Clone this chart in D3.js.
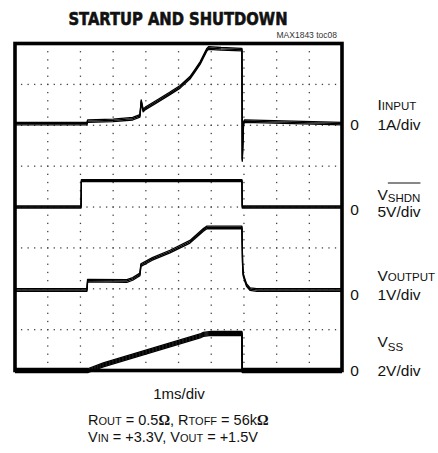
<!DOCTYPE html>
<html>
<head>
<meta charset="utf-8">
<script src="https://cdn.jsdelivr.net/npm/d3@7"></script>
<style>
  body { margin: 0; background: #fff; }
  text { font-family: "Liberation Sans", Arial, sans-serif; fill: #111; }
</style>
</head>
<body>
<script>
// scope shot data, time in ms, values in A or V
var inputT = [0, 2.2, 2.22, 3.0, 3.6, 3.82, 3.86, 3.92, 4.0, 4.33, 4.74, 5.05, 5.35, 5.5, 5.66, 5.86, 5.92, 6.3, 6.94, 6.95, 6.99, 7.02, 10];
var inputA = [0.04, 0.04, 0.10, 0.12, 0.16, 0.23, 0.59, 0.36, 0.42, 0.58, 0.78, 0.94, 1.16, 1.33, 1.52, 1.84, 1.89, 1.87, 1.85, -0.85, 0.06, 0.1, 0.04];

var shdnT = [0, 2.02, 2.03, 6.94, 6.95, 10];
var shdnV = [0, 0, 3.22, 3.22, 0, 0];

var voutT = [0, 2.2, 2.22, 3.42, 3.6, 3.82, 3.85, 4.2, 4.74, 5.35, 5.76, 5.87, 6.94, 6.96, 6.98, 7.03, 7.08, 7.19, 7.39, 10];
var voutV = [-0.03, -0.03, 0.2, 0.19, 0.24, 0.35, 0.58, 0.73, 0.91, 1.15, 1.44, 1.5, 1.5, 0.6, 0.34, 0.21, 0.09, -0.01, -0.03, -0.03];

var vssT = [0, 2.24, 2.7, 3.72, 4.74, 5.66, 5.76, 6.0, 6.94, 6.95, 10];
var vssV = [0, 0, 0.27, 0.76, 1.25, 1.69, 1.77, 1.82, 1.81, 0, 0];

// channel info
var chanMain = ["I", "V", "V", "V"];
var chanSub = ["INPUT", "SHDN", "OUTPUT", "SS"];
var chanScale = ["1A/div", "5V/div", "1V/div", "2V/div"];
var chanPerDiv = [1, 5, 1, 2];
var chanZeroDiv = [2, 4, 6, 8];

var title = "STARTUP AND SHUTDOWN";
var tocLabel = "MAX1843 toc08";
var timeLabel = "1ms/div";

var W = 438, H = 453;
var frame = {x: 15, y: 43.5, w: 327, h: 327};

var svg = d3.select("body").append("svg")
	.attr("width", W)
	.attr("height", H);

var x = d3.scaleLinear().domain([0, 10]).range([frame.x, frame.x + frame.w]);
var yDiv = d3.scaleLinear().domain([0, 8]).range([frame.y, frame.y + frame.h]);

// dotted graticule, 5 minor dots per division
var g = svg.append("g");
for (var k = 1; k < 8; k++) {
	for (var j = 1; j < 50; j++) {
		g.append("rect")
			.attr("x", x(j / 5) - 0.6).attr("y", yDiv(k) - 0.6)
			.attr("width", 1.3).attr("height", 1.3)
			.attr("fill", "#444");
	}
}
for (var i = 1; i < 10; i++) {
	for (var m = 1; m < 40; m++) {
		g.append("rect")
			.attr("x", x(i) - 0.6).attr("y", yDiv(m / 5) - 0.6)
			.attr("width", 1.3).attr("height", 1.3)
			.attr("fill", "#444");
	}
}

// traces - drawn a few times shifted up/down so flat parts look like a noisy band
// and the fast edges stay thin
var traces = [
	{t: inputT, v: inputA, ch: 0, offs: [-1.3, 0, 1.3]},
	{t: shdnT, v: shdnV, ch: 1, offs: [-1, 0, 1]},
	{t: voutT, v: voutV, ch: 2, offs: [-1.3, 0, 1.3]},
	{t: vssT, v: vssV, ch: 3, offs: [-2, -1, 0, 1, 2]}
];

traces.forEach(function(tr) {
	var zy = yDiv(chanZeroDiv[tr.ch]);
	var y = d3.scaleLinear().domain([0, chanPerDiv[tr.ch]]).range([zy, zy - (yDiv(1) - yDiv(0))]);
	var pts = tr.t.map(function(t, idx) { return [t, tr.v[idx]]; });
	var line = d3.line().x(function(d) { return x(d[0]); }).y(function(d) { return y(d[1]); });
	tr.offs.forEach(function(o) {
		svg.append("path")
			.attr("d", line(pts))
			.attr("transform", "translate(0," + o + ")")
			.attr("fill", "none")
			.attr("stroke", "#000")
			.attr("stroke-width", 1.3)
			.attr("stroke-linejoin", "round");
	});
});

// frame on top
svg.append("rect")
	.attr("x", frame.x).attr("y", frame.y)
	.attr("width", frame.w).attr("height", frame.h)
	.attr("fill", "none")
	.attr("stroke", "#000")
	.attr("stroke-width", 3.6);

// title (no narrow font here, so squeeze it to the width of the original)
svg.append("text")
	.attr("x", 178).attr("y", 25)
	.attr("text-anchor", "middle")
	.attr("textLength", 219)
	.attr("lengthAdjust", "spacingAndGlyphs")
	.style("font-family", "'DejaVu Sans Condensed', 'Liberation Sans', sans-serif")
	.style("font-weight", "bold")
	.style("font-size", "18.5px")
	.style("stroke", "#111")
	.style("stroke-width", 0.6)
	.text(title);

svg.append("text")
	.attr("x", 337).attr("y", 38)
	.attr("text-anchor", "end")
	.style("font-size", "8.5px")
	.style("fill", "#333")
	.text(tocLabel);

// right side labels
var nameY = [110, 200, 281, 347];
var subDy = [0, 1.5, 0, 4];
var divY = [129.5, 216.5, 300, 376];
var zeroY = [129.5, 215, 300, 376];

for (var c = 0; c < 4; c++) {
	svg.append("text")
		.attr("x", 354.5).attr("y", zeroY[c])
		.attr("text-anchor", "middle")
		.style("font-size", "15.5px")
		.text("0");

	var mainT = svg.append("text")
		.attr("x", 377.5).attr("y", nameY[c])
		.style("font-size", "15.5px")
		.text(chanMain[c]);
	var mw = mainT.node().getComputedTextLength();
	var subT = svg.append("text")
		.attr("x", 377.5 + mw).attr("y", nameY[c] + subDy[c])
		.style("font-size", "11.5px")
		.text(chanSub[c]);
	if (chanSub[c] == "SHDN") {
		var sw = subT.node().getComputedTextLength();
		svg.append("line")
			.attr("x1", 377.5 + mw).attr("x2", 377.5 + mw + sw)
			.attr("y1", 183).attr("y2", 183)
			.attr("stroke", "#111").attr("stroke-width", 1);
	}

	svg.append("text")
		.attr("x", 377.5).attr("y", divY[c])
		.style("font-size", "15.5px")
		.text(chanScale[c]);
}

// bottom notes
svg.append("text")
	.attr("x", 179).attr("y", 398.5)
	.attr("text-anchor", "middle")
	.style("font-size", "15px")
	.text(timeLabel);

var note1 = svg.append("text").attr("x", 88).attr("y", 425).style("font-size", "14.5px");
note1.append("tspan").text("R");
note1.append("tspan").style("font-size", "11px").text("OUT");
note1.append("tspan").text(" = 0.5");
note1.append("tspan").style("font-family", "'Liberation Serif', serif").style("font-weight", "bold").text("\u03A9");
note1.append("tspan").text(", R");
note1.append("tspan").style("font-size", "11px").text("TOFF");
note1.append("tspan").text(" = 56k");
note1.append("tspan").style("font-family", "'Liberation Serif', serif").style("font-weight", "bold").text("\u03A9");

var note2 = svg.append("text").attr("x", 88).attr("y", 441.5).style("font-size", "14.5px");
note2.append("tspan").text("V");
note2.append("tspan").style("font-size", "11px").text("IN");
note2.append("tspan").text(" = +3.3V, V");
note2.append("tspan").style("font-size", "11px").text("OUT");
note2.append("tspan").text(" = +1.5V");
</script>
</body>
</html>
